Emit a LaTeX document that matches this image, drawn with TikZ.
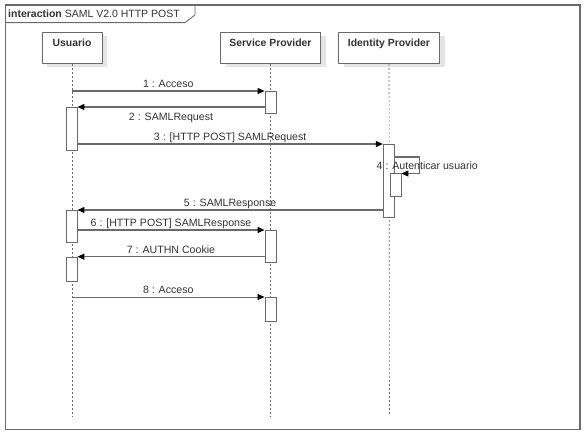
\documentclass[tikz,border=0pt]{standalone}
\usepackage{fontspec}
\setmainfont{Liberation Sans}
\usetikzlibrary{arrows.meta,shadows}
\definecolor{ln}{HTML}{6A6A6A}
\definecolor{tx}{HTML}{333333}
\tikzset{
  head/.style={draw=ln, line width=0.9pt, fill=white, minimum width=60pt, minimum height=31pt, anchor=north,
    inner ysep=0pt, text height=13.7pt, text depth=17.3pt,
    font=\fontsize{10.4}{12}\selectfont\bfseries, text=tx,
    drop shadow={shadow xshift=5pt, shadow yshift=-4pt, fill=black!10, opacity=1}},
  life/.style={draw=ln, line width=0.6pt, dash pattern=on 2pt off 2pt},
  act/.style={draw=ln, line width=0.9pt, fill=white, minimum width=11pt, inner sep=0pt, anchor=north},
  msg/.style={draw=ln, line width=1.1pt, -{Triangle[length=7pt,width=6pt,fill=black,color=black]}},
  lbl/.style={font=\fontsize{10.6}{12}\selectfont, text=tx, inner sep=0pt},
  up/.style={lbl, midway, anchor=base, yshift=3.5pt},
  down/.style={lbl, midway, anchor=base, yshift=-13.3pt},
  framebox/.style={draw=ln, line width=1.4pt}
}
\begin{document}
\begin{tikzpicture}[x=1pt,y=-1pt]
\useasboundingbox (0,0) rectangle (584,435);
% frame
\draw[framebox] (5.5,5) rectangle (580,429.5);
\draw[draw=ln, line width=0.9pt] (5.5,22.7) -- (185,22.7) -- (195,15) -- (195,5);
\node[lbl, anchor=base west, font=\fontsize{10.5}{12}\selectfont] (title) at (8,17.3) {\textbf{interaction} SAML V2.0 HTTP POST};
% heads
\node[head] (U) at (72,32) {Usuario};
\node[head, minimum width=100pt] (SP) at (270.5,32) {Service Provider};
\node[head, minimum width=101pt] (IP) at (389,32) {Identity Provider};
% lifelines
\coordinate (Ue) at (72,416);
\coordinate (SPe) at (270.5,416);
\coordinate (IPe) at (389.5,416);
\draw[life] (U.south) -- (Ue);
\draw[life] (SP.south) -- (SPe);
\draw[life] (IP.south) -- (IPe);
% activations
\node[act, minimum height=22pt] (sp1) at (270.5,91) {};
\node[act, minimum height=43pt] (ua1) at (71.5,107) {};
\node[act, minimum height=73pt] (ip1) at (388.8,144) {};
\node[act, minimum height=23pt] (ip2) at (395.5,173.5) {};
\node[act, minimum height=32.5pt] (ua2) at (71.5,210) {};
\node[act, minimum height=32.5pt] (sp2) at (270.5,230) {};
\node[act, minimum height=24pt] (ua3) at (71.5,256.7) {};
\node[act, minimum height=24pt] (sp3) at (270.5,297) {};
% messages
\draw[msg] (U.south |- sp1.north) -- node[up] (l1) {1 : Acceso} (sp1.north west);
\draw[msg] (sp1.west |- ua1.north) -- node[down] (l2) {2 : SAMLRequest} (ua1.north east);
\draw[msg] (ua1.east |- ip1.north) -- node[up] (l3) {3 : [HTTP POST] SAMLRequest} (ip1.north west);
\coordinate (s4) at (ip1.east |- 0,157);
\draw[msg] (s4) -- ++(25,0) |- (ip2.north east);
\node[lbl, anchor=base west] (l4) at (376.5,169.3) {4 : Autenticar usuario};
\draw[msg] (ip1.west |- ua2.north) -- node[up] (l5) {5 : SAMLResponse} (ua2.north east);
\draw[msg] (ua2.east |- sp2.north) -- node[up] (l6) {6 : [HTTP POST] SAMLResponse} (sp2.north west);
\draw[msg] (sp2.west |- ua3.north) -- node[up] (l7) {7 : AUTHN Cookie} (ua3.north east);
\draw[msg, line width=0.8pt] (U.south |- sp3.north) -- node[up] (l8) {8 : Acceso} (sp3.north west);
\end{tikzpicture}
\end{document}
